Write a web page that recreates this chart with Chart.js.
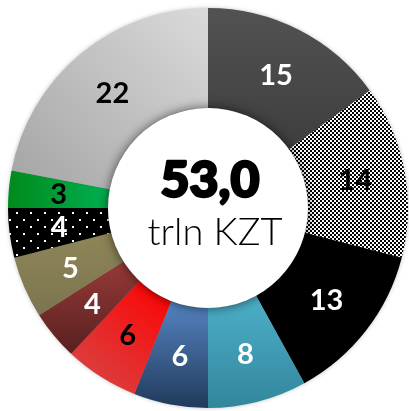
<!DOCTYPE html>
<html>
<head>
<meta charset="utf-8">
<script src="https://cdn.jsdelivr.net/npm/chart.js@4.4.1/dist/chart.umd.min.js"></script>
<style>
    html, body {
        margin: 0;
        padding: 0;
        background: #ffffff;
    }
    #wrap {
        width: 409px;
        height: 411px;
        position: relative;
    }
</style>
</head>
<body>
<div id="wrap">
    <canvas id="chart"></canvas>
</div>
<script>
const categories = [
    "Group 1", "Group 2", "Group 3", "Group 4", "Group 5", "Group 6",
    "Group 7", "Group 8", "Group 9", "Group 10", "Group 11"
];

const shares = [15, 14, 13, 8, 6, 6, 4, 5, 4, 3, 22];

const totalValue = "53,0";
const totalUnit = "trln KZT";

// fill styles, one per slice
const fills = [
    { from: "#525252", to: "#3e3e3e", dir: "v" },
    { pattern: "checker" },
    { solid: "#000000" },
    { from: "#4cb0c8", to: "#32869c", dir: "v" },
    { from: "#5584c2", to: "#213a5c", dir: "v" },
    { from: "#ff0000", to: "#d44a4a", dir: "d" },
    { from: "#963a38", to: "#57201f", dir: "v" },
    { from: "#8e8558", to: "#7c7450", dir: "v" },
    { pattern: "dots" },
    { from: "#00b050", to: "#008a1c", dir: "h" },
    { from: "#dadada", to: "#a4a4a4", dir: "d" }
];

const labelColors = [
    "#ffffff", "#000000", "#ffffff", "#ffffff", "#ffffff", "#000000",
    "#ffffff", "#ffffff", "#ffffff", "#000000", "#000000"
];

function makePattern(ctx, kind) {
    const tile = document.createElement("canvas");
    const t = tile.getContext("2d");
    if (kind === "checker") {
        tile.width = 4;
        tile.height = 4;
        t.fillStyle = "#ffffff";
        t.fillRect(0, 0, 4, 4);
        t.fillStyle = "#000000";
        t.fillRect(0, 0, 2, 2);
        t.fillRect(2, 2, 2, 2);
    } else {
        tile.width = 14;
        tile.height = 14;
        t.fillStyle = "#000000";
        t.fillRect(0, 0, 14, 14);
        t.fillStyle = "#ffffff";
        t.fillRect(2, 2, 2, 2);
        t.fillRect(9, 9, 2, 2);
    }
    return ctx.createPattern(tile, "repeat");
}

function sliceFill(context) {
    const chart = context.chart;
    const i = context.dataIndex;
    const f = fills[i];
    if (!f) {
        return "#999";
    }
    if (f.solid) {
        return f.solid;
    }
    if (f.pattern) {
        return makePattern(chart.ctx, f.pattern);
    }
    const area = chart.chartArea;
    if (!area || !isFinite(area.left)) {
        return f.from;
    }
    // slice geometry from the data (same as the doughnut layout)
    const cx = (area.left + area.right) / 2;
    const cy = (area.top + area.bottom) / 2;
    const r = Math.min(area.right - area.left, area.bottom - area.top) / 2;
    const ir = r / 2;
    const total = shares.reduce((a, b) => a + b, 0);
    const before = shares.slice(0, i).reduce((a, b) => a + b, 0);
    const a0 = -Math.PI / 2 + 2 * Math.PI * before / total;
    const a1 = a0 + 2 * Math.PI * shares[i] / total;
    const xs = [];
    const ys = [];
    for (let k = 0; k <= 8; k++) {
        const a = a0 + (a1 - a0) * k / 8;
        xs.push(cx + Math.cos(a) * r, cx + Math.cos(a) * ir);
        ys.push(cy + Math.sin(a) * r, cy + Math.sin(a) * ir);
    }
    const minX = Math.min(...xs), maxX = Math.max(...xs);
    const minY = Math.min(...ys), maxY = Math.max(...ys);
    let g;
    if (f.dir === "v") {
        g = chart.ctx.createLinearGradient(0, minY, 0, maxY);
    } else if (f.dir === "h") {
        g = chart.ctx.createLinearGradient(maxX, 0, minX, 0);
    } else {
        g = chart.ctx.createLinearGradient(maxX, minY, minX, maxY);
    }
    g.addColorStop(0, f.from);
    g.addColorStop(1, f.to);
    return g;
}

const ringDecor = {
    id: "ringDecor",
    beforeDatasetsDraw(chart) {
        const arc = chart.getDatasetMeta(0).data[0];
        if (!arc) return;
        const ctx = chart.ctx;
        ctx.save();
        ctx.shadowColor = "rgba(0,0,0,0.35)";
        ctx.shadowBlur = 5;
        ctx.fillStyle = "#888888";
        ctx.beginPath();
        ctx.arc(arc.x, arc.y, arc.outerRadius - 1, 0, Math.PI * 2);
        ctx.fill();
        ctx.restore();
    },
    afterDatasetsDraw(chart) {
        const meta = chart.getDatasetMeta(0);
        const arc = meta.data[0];
        if (!arc) return;
        const ctx = chart.ctx;

        // slice numbers
        ctx.save();
        ctx.font = "bold 29px Lato";
        ctx.textAlign = "center";
        ctx.textBaseline = "middle";
        meta.data.forEach((el, i) => {
            const p = el.tooltipPosition();
            ctx.fillStyle = labelColors[i];
            ctx.fillText(String(shares[i]), p.x, p.y + 1);
        });
        ctx.restore();

        // white centre disc with soft shadow
        ctx.save();
        ctx.shadowColor = "rgba(0,0,0,0.6)";
        ctx.shadowBlur = 11;
        ctx.fillStyle = "#ffffff";
        ctx.beginPath();
        ctx.arc(arc.x, arc.y, arc.innerRadius, 0, Math.PI * 2);
        ctx.fill();
        ctx.restore();

        ctx.save();
        ctx.fillStyle = "#000000";
        ctx.strokeStyle = "#000000";
        ctx.lineWidth = 2.5;
        ctx.lineJoin = "round";
        ctx.textAlign = "center";
        ctx.textBaseline = "alphabetic";
        ctx.font = "900 50px Lato";
        ctx.fillText(totalValue, arc.x + 2, arc.y - 11);
        ctx.strokeText(totalValue, arc.x + 2, arc.y - 11);
        ctx.font = "300 38px Lato";
        ctx.fillText(totalUnit, arc.x + 7, arc.y + 37);
        ctx.restore();
    }
};

new Chart(document.getElementById("chart"), {
    type: "doughnut",
    data: {
        labels: categories,
        datasets: [
            {
                data: shares,
                backgroundColor: sliceFill,
                borderWidth: 0,
                hoverOffset: 0
            }
        ]
    },
    options: {
        responsive: true,
        maintainAspectRatio: false,
        animation: false,
        cutout: "50%",
        layout: {
            padding: { left: 8, right: 1, top: 8, bottom: 3 }
        },
        plugins: {
            legend: { display: false },
            tooltip: { enabled: false }
        },
        events: []
    },
    plugins: [ringDecor]
});
</script>
</body>
</html>
